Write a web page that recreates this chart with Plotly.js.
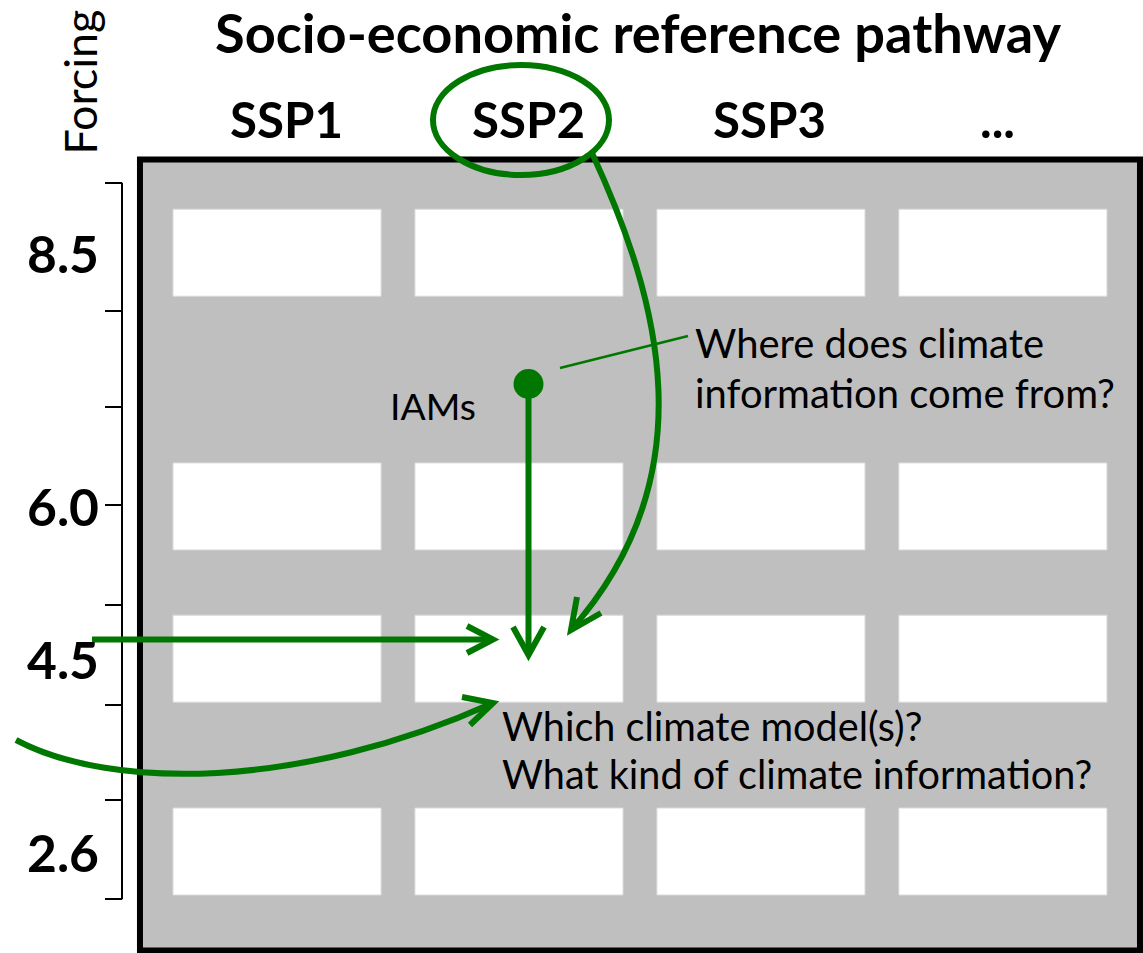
<!DOCTYPE html>
<html><head><meta charset="utf-8">
<script src="https://cdn.plot.ly/plotly-3.0.1.min.js"></script>
<style>html,body{margin:0;padding:0;background:#fff;}#chart{width:1143px;height:953px;}</style>
</head><body><div id="chart"></div>
<script>
// ---- data ----
const ssps = ['SSP1', 'SSP2', 'SSP3', '...'];
const forcingLevels = [8.5, 6.0, 4.5, 2.6];
const forcingLabels = ['8.5', '6.0', '4.5', '2.6'];
const forcingTicks = [9.19, 7.93, 6.98, 6.01, 5.03, 4.04, 3.11, 2.13];
const titleText = 'Socio-economic reference pathway';
const axisTitleText = 'Forcing';
const sourceLabel = 'IAMs';
const sourceQuestion = ['Where does climate', 'information come from?'];
const targetQuestions = ['Which climate model(s)?', 'What kind of climate information?'];

// ---- styling / geometry ----
const W = 1143, H = 953;
const GREEN = '#007800';
const FONT = 'Lato, "Open Sans", sans-serif';
const ctx = document.createElement('canvas').getContext('2d');
function fit(text, weight, target) {
  ctx.font = weight + ' 100px Lato';
  return 100 * target / ctx.measureText(text).width;
}
const xr = [-1.145, 3.579], yr = [1.6, 10.99];
const halfW = 0.43, halfH = 0.4285;

const shapes = [];
// frame
shapes.push({type: 'rect', xref: 'x', yref: 'y', layer: 'below',
  x0: -halfW - 0.1365, x1: (ssps.length - 1) + halfW + 0.1365, y0: 1.6246, y1: 9.4184,
  fillcolor: '#bfbfbf', line: {color: '#000', width: 6}});
// cells
ssps.forEach((s, i) => forcingLevels.forEach(v => {
  shapes.push({type: 'rect', xref: 'x', yref: 'y', layer: 'below',
    x0: i - halfW, x1: i + halfW, y0: v - halfH, y1: v + halfH,
    fillcolor: '#ffffff', line: {color: '#dadada', width: 1}});
}));
// forcing bracket line
shapes.push({type: 'line', xref: 'paper', yref: 'y', x0: 122 / W, x1: 122 / W,
  y0: forcingTicks[forcingTicks.length - 1], y1: forcingTicks[0], line: {color: '#000', width: 2}});

const gl = {color: GREEN, width: 6};
// ellipse around SSP2
shapes.push({type: 'circle', xref: 'x', yref: 'y', x0: 0.6445, x1: 1.3720, y0: 9.2657, y1: 10.3495, line: gl});
// curve from SSP2 to the focus cell
shapes.push({type: 'path', xref: 'x', yref: 'y', line: gl,
  path: 'M 1.3017,9.4825 C 1.5827,8.0340 1.7811,6.3097 1.2149,4.7825'});
shapes.push({type: 'path', xref: 'x', yref: 'y', line: gl,
  path: 'M 1.2397,5.1076 L 1.2149,4.7825 L 1.3389,4.9500'});
// vertical arrow from IAMs
shapes.push({type: 'line', xref: 'x', yref: 'y', x0: 1.0393, x1: 1.0393, y0: 7.2064, y1: 4.5362, line: {color: GREEN, width: 6}});
shapes.push({type: 'path', xref: 'x', yref: 'y', line: gl,
  path: 'M 0.9752,4.8121 L 1.0393,4.5362 L 1.1034,4.8121'});
// horizontal arrow from forcing
shapes.push({type: 'line', xref: 'x', yref: 'y', x0: -0.7648, x1: 0.8925, y0: 4.6889, y1: 4.6889, line: {color: GREEN, width: 6}});
shapes.push({type: 'path', xref: 'x', yref: 'y', line: gl,
  path: 'M 0.7851,4.8219 L 0.8925,4.6889 L 0.7851,4.5559'});
// lower curved arrow
shapes.push({type: 'path', xref: 'x', yref: 'y', line: gl,
  path: 'M -1.0789,3.6986 C -0.6904,3.2060 0.0949,3.2060 0.8925,4.0632'});
shapes.push({type: 'path', xref: 'x', yref: 'y', line: gl,
  path: 'M 0.7644,4.1223 L 0.8925,4.0632 L 0.7975,3.8464'});
// leader line to question
shapes.push({type: 'line', xref: 'x', yref: 'y', x0: 1.1694, y0: 7.3640, x1: 1.6985, y1: 7.6793, line: {color: GREEN, width: 2.5}});

const annotations = [];
// column headers
const sspSize = fit('SSP1', 'bold', 113);
const sspShift = [9, 9.5, 9, -5];
ssps.forEach((s, i) => annotations.push({xref: 'x', yref: 'paper', x: i, y: 1 - 118.5 / H,
  xshift: sspShift[i], text: '<b>' + s + '</b>', showarrow: false, xanchor: 'center', yanchor: 'middle',
  font: {family: FONT, size: sspSize, color: '#000'}}));
// forcing labels
const fSize = fit('8.5', 'bold', 72);
forcingLevels.forEach((v, i) => annotations.push({xref: 'paper', yref: 'y', x: 101 / W, y: v,
  text: '<b>' + forcingLabels[i] + '</b>', showarrow: false, xanchor: 'right', yanchor: 'middle',
  font: {family: FONT, size: fSize, color: '#000'}}));
// axis title
annotations.push({xref: 'paper', yref: 'paper', x: 79 / W, y: 1 - 82.5 / H, text: axisTitleText,
  textangle: -90, showarrow: false, xanchor: 'center', yanchor: 'middle',
  font: {family: FONT, size: fit(axisTitleText, 'normal', 145), color: '#000'}});
// IAMs
annotations.push({xref: 'x', yref: 'y', x: 0.4586, y: 6.99, text: sourceLabel, showarrow: false,
  xanchor: 'left', yanchor: 'middle', font: {family: FONT, size: fit(sourceLabel, 'normal', 86), color: '#000'}});
// questions
const qSize = fit(sourceQuestion[1], 'normal', 420);
annotations.push({xref: 'x', yref: 'y', x: 1.7191, y: 7.61, text: sourceQuestion[0], showarrow: false,
  xanchor: 'left', yanchor: 'middle', font: {family: FONT, size: qSize, color: '#000'}});
annotations.push({xref: 'x', yref: 'y', x: 1.7191, y: 7.117, text: sourceQuestion[1], showarrow: false,
  xanchor: 'left', yanchor: 'middle', font: {family: FONT, size: qSize, color: '#000'}});
const tSize = fit(targetQuestions[1], 'normal', 591);
annotations.push({xref: 'x', yref: 'y', x: 0.9215, y: 3.846, text: targetQuestions[0], showarrow: false,
  xanchor: 'left', yanchor: 'middle', font: {family: FONT, size: tSize, color: '#000'}});
annotations.push({xref: 'x', yref: 'y', x: 0.9215, y: 3.364, text: targetQuestions[1], showarrow: false,
  xanchor: 'left', yanchor: 'middle', font: {family: FONT, size: tSize, color: '#000'}});

const traces = [{
  type: 'scatter', mode: 'markers', x: [1.0393], y: [7.2064], hoverinfo: 'skip', showlegend: false,
  marker: {size: 30, color: GREEN, line: {width: 0}}
}];

const layout = {
  width: W, height: H, margin: {l: 0, r: 0, t: 0, b: 0, pad: 0},
  paper_bgcolor: '#fff', plot_bgcolor: '#fff', showlegend: false,
  title: {text: '<b>' + titleText + '</b>', x: 638 / W, xanchor: 'center', y: 1 - 34 / H, yanchor: 'middle',
    font: {family: FONT, size: fit(titleText, 'bold', 846), color: '#000'}},
  xaxis: {range: xr, visible: false, fixedrange: true},
  yaxis: {range: yr, anchor: 'free', position: 122 / W, side: 'left', showgrid: false, zeroline: false,
    showline: false, ticks: 'outside', ticklen: 17, tickwidth: 2, tickcolor: '#000',
    tickmode: 'array', tickvals: forcingTicks, showticklabels: false, fixedrange: true},
  shapes: shapes, annotations: annotations
};
Plotly.newPlot('chart', traces, layout, {displayModeBar: false, staticPlot: true});
</script></body></html>
